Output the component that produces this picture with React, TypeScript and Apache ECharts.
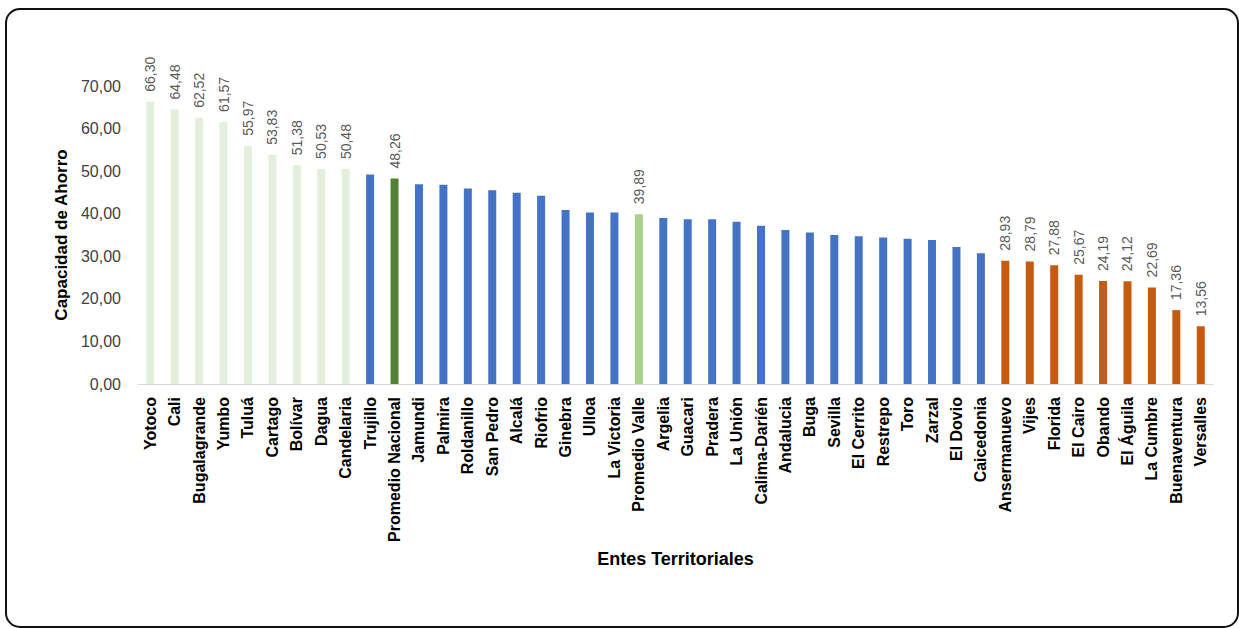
import React, { useEffect, useRef } from "react";
import * as echarts from "echarts";

const categories = [
  "Yotoco", "Cali", "Bugalagrande", "Yumbo", "Tuluá", "Cartago", "Bolívar", "Dagua", "Candelaria",
  "Trujillo", "Promedio Nacional", "Jamundi", "Palmira", "Roldanillo", "San Pedro", "Alcalá", "Riofrio",
  "Ginebra", "Ulloa", "La Victoria", "Promedio Valle", "Argelia", "Guacari", "Pradera", "La Unión",
  "Calima-Darién", "Andalucia", "Buga", "Sevilla", "El Cerrito", "Restrepo", "Toro", "Zarzal", "El Dovio",
  "Caicedonia", "Ansermanuevo", "Vijes", "Florida", "El Cairo", "Obando", "El Águila", "La Cumbre",
  "Buenaventura", "Versalles",
];

const values = [
  66.3, 64.48, 62.52, 61.57, 55.97, 53.83, 51.38, 50.53, 50.48,
  49.2, 48.26, 46.9, 46.8, 45.9, 45.5, 44.9, 44.2,
  40.9, 40.3, 40.3, 39.89, 39.0, 38.7, 38.7, 38.1,
  37.2, 36.2, 35.6, 35.0, 34.7, 34.4, 34.1, 33.8, 32.2,
  30.7, 28.93, 28.79, 27.88, 25.67, 24.19, 24.12, 22.69,
  17.36, 13.56,
];

// group of each bar: high, national, mid, valle, low
const groups = [
  "high", "high", "high", "high", "high", "high", "high", "high", "high",
  "mid", "national", "mid", "mid", "mid", "mid", "mid", "mid",
  "mid", "mid", "mid", "valle", "mid", "mid", "mid", "mid",
  "mid", "mid", "mid", "mid", "mid", "mid", "mid", "mid", "mid",
  "mid", "low", "low", "low", "low", "low", "low", "low",
  "low", "low",
];

const yTicks = { min: 0, max: 70, interval: 10 };

const groupColor: Record<string, string> = {
  high: "#E2EFDA",
  national: "#548235",
  mid: "#4472C4",
  valle: "#A9D18E",
  low: "#C55A11",
};

const fmt = (v: number) => v.toFixed(2).replace(".", ",");

export default function App() {
  const ref = useRef<HTMLDivElement>(null);
  useEffect(() => {
    document.body.style.margin = "0";
    const chart = echarts.init(ref.current!, null, { renderer: "svg" });
    const data = values.map((v, i) => ({
      value: v,
      itemStyle: { color: groupColor[groups[i]] },
      label: { show: groups[i] !== "mid" },
    }));
    chart.setOption({
      animation: false,
      backgroundColor: "#ffffff",
      graphic: [
        {
          type: "rect",
          shape: { x: 6, y: 9, width: 1232, height: 618, r: 14 },
          style: { fill: "none", stroke: "#111111", lineWidth: 2 },
          silent: true,
        },
      ],
      grid: { left: 138, right: 26, top: 86, bottom: 244, containLabel: false },
      xAxis: {
        type: "category",
        data: categories,
        axisLine: { lineStyle: { color: "#D9D9D9", width: 1 } },
        axisTick: { show: false },
        axisLabel: {
          rotate: 90,
          interval: 0,
          margin: 13,
          color: "#000000",
          fontFamily: "Liberation Sans, Arial, sans-serif",
          fontWeight: "bold",
          fontSize: 16,
        },
        name: "Entes Territoriales",
        nameLocation: "middle",
        nameGap: 166,
        nameTextStyle: {
          color: "#000000",
          fontFamily: "Liberation Sans, Arial, sans-serif",
          fontWeight: "bold",
          fontSize: 18,
        },
      },
      yAxis: {
        type: "value",
        min: yTicks.min,
        max: yTicks.max,
        interval: yTicks.interval,
        splitLine: { show: false },
        axisLine: { show: false },
        axisTick: { show: false },
        axisLabel: {
          formatter: (v: number) => fmt(v),
          color: "#404040",
          fontFamily: "Liberation Sans, Arial, sans-serif",
          fontSize: 16,
          margin: 17,
        },
        name: "Capacidad de Ahorro",
        nameLocation: "middle",
        nameGap: 68,
        nameTextStyle: {
          color: "#000000",
          fontFamily: "Liberation Sans, Arial, sans-serif",
          fontWeight: "bold",
          fontSize: 17,
        },
      },
      series: [
        {
          type: "bar",
          data,
          barWidth: 8,
          label: {
            position: "top",
            rotate: 90,
            align: "left",
            verticalAlign: "middle",
            distance: 10,
            color: "#595959",
            fontFamily: "Liberation Sans, Arial, sans-serif",
            fontSize: 14,
            formatter: (p: any) => fmt(p.value),
          },
        },
      ],
    });
    return () => chart.dispose();
  }, []);
  return <div ref={ref} style={{ position: "absolute", left: 0, top: 0, width: 1239, height: 628 }} />;
}
